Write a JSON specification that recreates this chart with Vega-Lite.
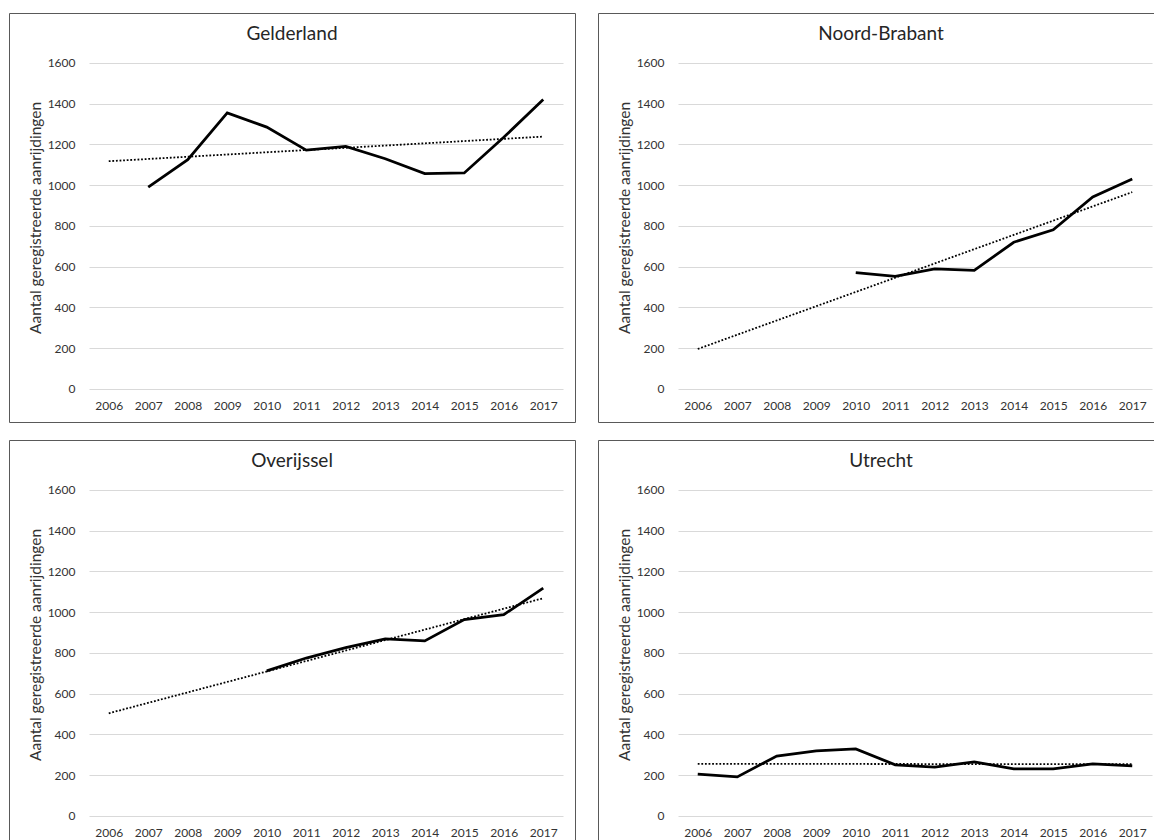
{
  "$schema": "https://vega.github.io/schema/vega-lite/v6.json",
  "background": "white",
  "padding": {"left": 8, "top": 12, "right": 0, "bottom": 0},
  "data": {
    "values": [
      {"provincie": "Gelderland", "jaar": 2007, "aantal": 990},
      {"provincie": "Gelderland", "jaar": 2008, "aantal": 1125},
      {"provincie": "Gelderland", "jaar": 2009, "aantal": 1355},
      {"provincie": "Gelderland", "jaar": 2010, "aantal": 1285},
      {"provincie": "Gelderland", "jaar": 2011, "aantal": 1172},
      {"provincie": "Gelderland", "jaar": 2012, "aantal": 1190},
      {"provincie": "Gelderland", "jaar": 2013, "aantal": 1130},
      {"provincie": "Gelderland", "jaar": 2014, "aantal": 1057},
      {"provincie": "Gelderland", "jaar": 2015, "aantal": 1060},
      {"provincie": "Gelderland", "jaar": 2016, "aantal": 1235},
      {"provincie": "Gelderland", "jaar": 2017, "aantal": 1420},
      {"provincie": "Noord-Brabant", "jaar": 2010, "aantal": 571},
      {"provincie": "Noord-Brabant", "jaar": 2011, "aantal": 553},
      {"provincie": "Noord-Brabant", "jaar": 2012, "aantal": 589},
      {"provincie": "Noord-Brabant", "jaar": 2013, "aantal": 582},
      {"provincie": "Noord-Brabant", "jaar": 2014, "aantal": 720},
      {"provincie": "Noord-Brabant", "jaar": 2015, "aantal": 781},
      {"provincie": "Noord-Brabant", "jaar": 2016, "aantal": 942},
      {"provincie": "Noord-Brabant", "jaar": 2017, "aantal": 1031},
      {"provincie": "Overijssel", "jaar": 2010, "aantal": 712},
      {"provincie": "Overijssel", "jaar": 2011, "aantal": 775},
      {"provincie": "Overijssel", "jaar": 2012, "aantal": 826},
      {"provincie": "Overijssel", "jaar": 2013, "aantal": 869},
      {"provincie": "Overijssel", "jaar": 2014, "aantal": 859},
      {"provincie": "Overijssel", "jaar": 2015, "aantal": 964},
      {"provincie": "Overijssel", "jaar": 2016, "aantal": 988},
      {"provincie": "Overijssel", "jaar": 2017, "aantal": 1118},
      {"provincie": "Utrecht", "jaar": 2006, "aantal": 205},
      {"provincie": "Utrecht", "jaar": 2007, "aantal": 192},
      {"provincie": "Utrecht", "jaar": 2008, "aantal": 294},
      {"provincie": "Utrecht", "jaar": 2009, "aantal": 319},
      {"provincie": "Utrecht", "jaar": 2010, "aantal": 329},
      {"provincie": "Utrecht", "jaar": 2011, "aantal": 251},
      {"provincie": "Utrecht", "jaar": 2012, "aantal": 240},
      {"provincie": "Utrecht", "jaar": 2013, "aantal": 266},
      {"provincie": "Utrecht", "jaar": 2014, "aantal": 231},
      {"provincie": "Utrecht", "jaar": 2015, "aantal": 231},
      {"provincie": "Utrecht", "jaar": 2016, "aantal": 256},
      {"provincie": "Utrecht", "jaar": 2017, "aantal": 246}
    ]
  },
  "columns": 2,
  "spacing": {"row": 16, "column": 21},
  "concat": [
    {
      "width": 566, "height": 409,
      "title": {"text": "Gelderland"},
      "transform": [{"filter": "datum.provincie === 'Gelderland'"}],
      "encoding": {
        "x": {"field": "jaar", "type": "ordinal",
          "scale": {"type": "point", "domain": [2006, 2007, 2008, 2009, 2010, 2011, 2012, 2013, 2014, 2015, 2016, 2017], "range": [80, 554], "padding": 0.5},
          "axis": {"title": null, "offset": -22, "labelAngle": 0, "grid": false, "ticks": false, "tickSize": 0, "domain": false, "labelPadding": 0}},
        "y": {"field": "aantal", "type": "quantitative",
          "scale": {"domain": [-162, 1845], "nice": false, "zero": false},
          "axis": {"title": "Aantal geregistreerde aanrijdingen", "values": [0, 200, 400, 600, 800, 1000, 1200, 1400, 1600], "format": "d", "offset": -66, "grid": true, "ticks": false, "tickSize": 0, "domain": false, "labelPadding": 0, "titlePadding": 4}}
      },
      "layer": [
        {"mark": {"type": "line", "color": "black", "strokeWidth": 2.75}},
        {"transform": [{"regression": "aantal", "on": "jaar", "extent": [2006, 2017]}],
         "mark": {"type": "line", "color": "black", "strokeWidth": 1.8, "strokeDash": [1.8, 1.8]}}
      ]
    },
    {
      "width": 566, "height": 409,
      "title": {"text": "Noord-Brabant"},
      "transform": [{"filter": "datum.provincie === 'Noord-Brabant'"}],
      "encoding": {
        "x": {"field": "jaar", "type": "ordinal",
          "scale": {"type": "point", "domain": [2006, 2007, 2008, 2009, 2010, 2011, 2012, 2013, 2014, 2015, 2016, 2017], "range": [80, 554], "padding": 0.5},
          "axis": {"title": null, "offset": -22, "labelAngle": 0, "grid": false, "ticks": false, "tickSize": 0, "domain": false, "labelPadding": 0}},
        "y": {"field": "aantal", "type": "quantitative",
          "scale": {"domain": [-162, 1845], "nice": false, "zero": false},
          "axis": {"title": "Aantal geregistreerde aanrijdingen", "values": [0, 200, 400, 600, 800, 1000, 1200, 1400, 1600], "format": "d", "offset": -66, "grid": true, "ticks": false, "tickSize": 0, "domain": false, "labelPadding": 0, "titlePadding": 4}}
      },
      "layer": [
        {"mark": {"type": "line", "color": "black", "strokeWidth": 2.75}},
        {"transform": [{"regression": "aantal", "on": "jaar", "extent": [2006, 2017]}],
         "mark": {"type": "line", "color": "black", "strokeWidth": 1.8, "strokeDash": [1.8, 1.8]}}
      ]
    },
    {
      "width": 566, "height": 409,
      "title": {"text": "Overijssel"},
      "transform": [{"filter": "datum.provincie === 'Overijssel'"}],
      "encoding": {
        "x": {"field": "jaar", "type": "ordinal",
          "scale": {"type": "point", "domain": [2006, 2007, 2008, 2009, 2010, 2011, 2012, 2013, 2014, 2015, 2016, 2017], "range": [80, 554], "padding": 0.5},
          "axis": {"title": null, "offset": -22, "labelAngle": 0, "grid": false, "ticks": false, "tickSize": 0, "domain": false, "labelPadding": 0}},
        "y": {"field": "aantal", "type": "quantitative",
          "scale": {"domain": [-162, 1845], "nice": false, "zero": false},
          "axis": {"title": "Aantal geregistreerde aanrijdingen", "values": [0, 200, 400, 600, 800, 1000, 1200, 1400, 1600], "format": "d", "offset": -66, "grid": true, "ticks": false, "tickSize": 0, "domain": false, "labelPadding": 0, "titlePadding": 4}}
      },
      "layer": [
        {"mark": {"type": "line", "color": "black", "strokeWidth": 2.75}},
        {"transform": [{"regression": "aantal", "on": "jaar", "extent": [2006, 2017]}],
         "mark": {"type": "line", "color": "black", "strokeWidth": 1.8, "strokeDash": [1.8, 1.8]}}
      ]
    },
    {
      "width": 566, "height": 409,
      "title": {"text": "Utrecht"},
      "transform": [{"filter": "datum.provincie === 'Utrecht'"}],
      "encoding": {
        "x": {"field": "jaar", "type": "ordinal",
          "scale": {"type": "point", "domain": [2006, 2007, 2008, 2009, 2010, 2011, 2012, 2013, 2014, 2015, 2016, 2017], "range": [80, 554], "padding": 0.5},
          "axis": {"title": null, "offset": -22, "labelAngle": 0, "grid": false, "ticks": false, "tickSize": 0, "domain": false, "labelPadding": 0}},
        "y": {"field": "aantal", "type": "quantitative",
          "scale": {"domain": [-162, 1845], "nice": false, "zero": false},
          "axis": {"title": "Aantal geregistreerde aanrijdingen", "values": [0, 200, 400, 600, 800, 1000, 1200, 1400, 1600], "format": "d", "offset": -66, "grid": true, "ticks": false, "tickSize": 0, "domain": false, "labelPadding": 0, "titlePadding": 4}}
      },
      "layer": [
        {"mark": {"type": "line", "color": "black", "strokeWidth": 2.75}},
        {"transform": [{"regression": "aantal", "on": "jaar", "extent": [2006, 2017]}],
         "mark": {"type": "line", "color": "black", "strokeWidth": 1.8, "strokeDash": [1.8, 1.8]}}
      ]
    }
  ],
  "config": {
    "font": "Lato",
    "view": {"stroke": "#595959", "strokeWidth": 1},
    "axis": {
      "labelFont": "Lato", "labelFontSize": 12, "labelColor": "#333333",
      "titleFont": "Lato", "titleFontSize": 15.5, "titleFontWeight": "normal", "titleColor": "#333333",
      "gridColor": "#d9d9d9", "gridWidth": 1
    },
    "title": {"font": "Lato", "fontSize": 19, "fontWeight": "normal", "color": "#262626", "anchor": "middle", "frame": "group", "offset": -31, "baseline": "alphabetic"}
  }
}
